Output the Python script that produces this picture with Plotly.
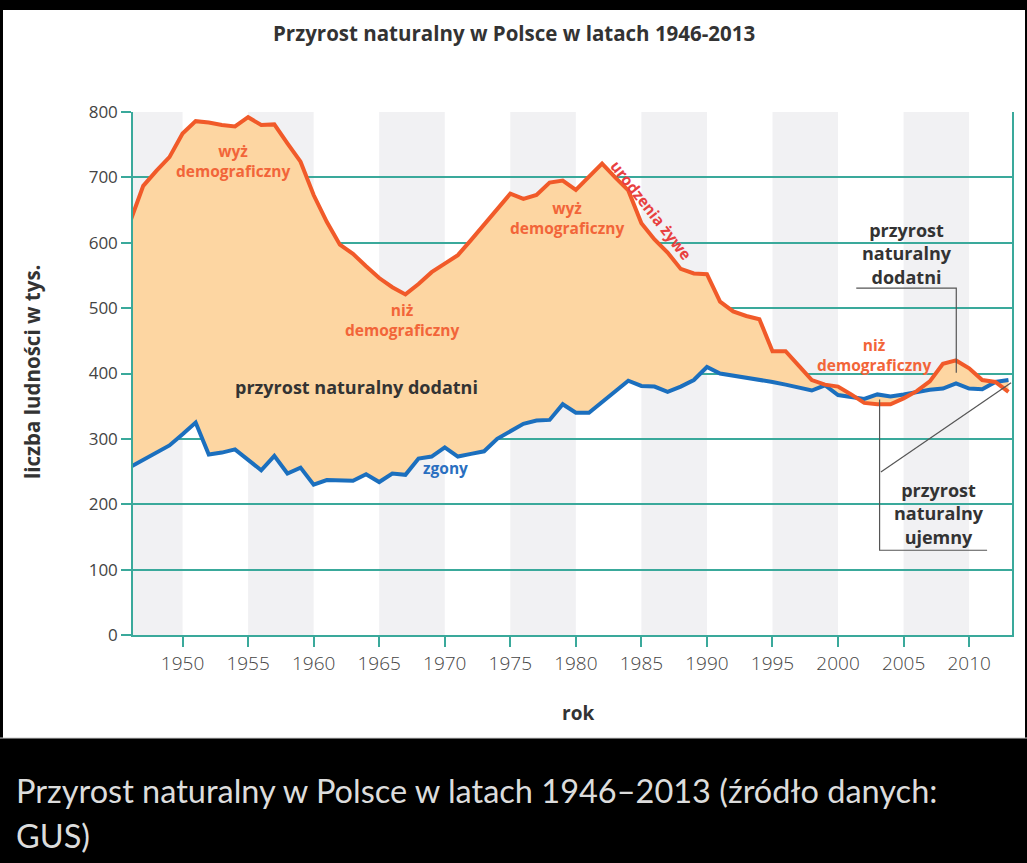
import plotly.graph_objects as go

# dane (tys.)
years = [1946, 1947, 1948, 1949, 1950, 1951, 1952, 1953, 1954, 1955,
         1956, 1957, 1958, 1959, 1960, 1961, 1962, 1963, 1964, 1965,
         1966, 1967, 1968, 1969, 1970, 1971, 1972, 1973, 1974, 1975,
         1976, 1977, 1978, 1979, 1980, 1981, 1982, 1983, 1984, 1985,
         1986, 1987, 1988, 1989, 1990, 1991, 1992, 1993, 1994, 1995,
         1996, 1997, 1998, 1999, 2000, 2001, 2002, 2003, 2004, 2005,
         2006, 2007, 2008, 2009, 2010, 2011, 2012, 2013]

births = [632, 687, 710, 731, 767, 786, 784, 780, 778, 792,
          780, 781, 752, 724, 673, 632, 597, 583, 564, 546,
          532, 521, 537, 555, 568, 581, 604, 628, 652, 675,
          667, 673, 692, 695, 681, 700, 721, 700, 680, 630,
          605, 585, 560, 553, 552, 510, 495, 488, 483, 434,
          434, 412, 390, 383, 380, 368, 355, 353, 353, 362,
          373, 388, 415, 420, 408, 390, 387, 372]

deaths = [257, 268, 279, 290, 307, 325, 276, 279, 284, 268,
          252, 274, 247, 256, 230, 237, 237, 236, 246, 234,
          247, 245, 270, 273, 287, 273, 277, 281, 300, 312,
          323, 328, 329, 353, 340, 340, 356, 373, 389, 381,
          380, 372, 380, 390, 410, 400, 397, 394, 390, 387,
          383, 379, 374, 382, 367, 364, 361, 368, 365, 368,
          372, 375, 377, 385, 377, 376, 387, 390]

tick_years = [1950, 1955, 1960, 1965, 1970, 1975, 1980, 1985, 1990, 1995, 2000, 2005, 2010]

TEAL = "#3aa99b"
ORANGE = "#f15a29"
BLUE = "#1b6fbe"
DARK = "#333333"
FONT = "Open Sans"

fig = go.Figure()

fig.add_trace(go.Scatter(x=years, y=deaths, mode="lines",
                         line=dict(color=BLUE, width=4), hoverinfo="skip"))
fig.add_trace(go.Scatter(x=years, y=births, mode="lines", fill="tonexty",
                         fillcolor="#fdd6a2",
                         line=dict(color=ORANGE, width=4), hoverinfo="skip"))

shapes = []
# szare pasy co 5 lat
for start in range(1945, 2010, 10):
    shapes.append(dict(type="rect", xref="x", yref="paper", x0=start, x1=start + 5,
                       y0=0, y1=1, fillcolor="#f1f1f3", line_width=0, layer="below"))

# czarne tło podpisu i obramowanie
shapes.append(dict(type="rect", xref="paper", yref="paper", x0=-0.2, x1=1.1,
                   y0=-0.197, y1=-0.5, fillcolor="black", line_width=0, layer="below"))
shapes.append(dict(type="line", xref="paper", yref="paper", x0=-0.2, x1=1.1,
                   y0=-0.197, y1=-0.197, line=dict(color="#cccccc", width=1)))
shapes.append(dict(type="rect", xref="paper", yref="paper", x0=-0.2, x1=1.1,
                   y0=1.195, y1=1.25, fillcolor="black", line_width=0, layer="below"))
shapes.append(dict(type="rect", xref="paper", yref="paper", x0=-0.2, x1=-0.1479,
                   y0=-0.5, y1=1.25, fillcolor="black", line_width=0, layer="below"))
shapes.append(dict(type="rect", xref="paper", yref="paper", x0=1.0148, x1=1.1,
                   y0=-0.5, y1=1.25, fillcolor="black", line_width=0, layer="below"))

# linie odnośników
GREY = "#555555"
shapes.append(dict(type="path", xref="x", yref="y",
                   path="M 2001.39 530.7 L 2009.02 530.7 L 2009.02 401",
                   line=dict(color=GREY, width=1.2)))
shapes.append(dict(type="path", xref="x", yref="y",
                   path="M 2003.17 360.3 L 2003.17 129.6 L 2011.37 129.6",
                   line=dict(color=GREY, width=1.2)))
shapes.append(dict(type="line", xref="x", yref="y", x0=2003.27, y0=249.5,
                   x1=2013.2, y1=385.7, line=dict(color=GREY, width=1.2)))

annotations = []


def note(text, x, y, color, size, angle=0):
    annotations.append(dict(text=text, x=x, y=y, xref="x", yref="y", showarrow=False,
                            textangle=angle, xanchor="center", yanchor="middle",
                            font=dict(family=FONT, size=size, color=color, weight="bold")))


note("wyż<br>demograficzny", 1953.85, 725, "#f26539", 15.5)
note("wyż<br>demograficzny", 1979.29, 638, "#f26539", 15.5)
note("niż<br>demograficzny", 1966.73, 482, "#f26539", 15.5)
note("niż<br>demograficzny", 2002.77, 428, "#f26539", 15.5)
note("urodzenia żywe", 1985.75, 650, "#e8403f", 15.5, angle=52)
note("zgony", 1970.05, 255, "#2a6fc0", 15.5)
note("przyrost naturalny dodatni", 1963.3, 380, DARK, 18)
note("przyrost<br>naturalny<br>dodatni", 2005.26, 584, DARK, 18)
note("przyrost<br>naturalny<br>ujemny", 2007.7, 186, DARK, 18)

# tytuły
annotations.append(dict(text="Przyrost naturalny w Polsce w latach 1946-2013",
                        xref="paper", yref="paper", x=0.4334, y=1.151, showarrow=False,
                        xanchor="center", yanchor="middle",
                        font=dict(family=FONT, size=20.5, color=DARK, weight="bold")))
annotations.append(dict(text="liczba ludności w tys.", xref="paper", yref="paper",
                        x=-0.1149, y=0.503, showarrow=False, textangle=-90,
                        xanchor="center", yanchor="middle",
                        font=dict(family=FONT, size=20.5, color=DARK, weight="bold")))
annotations.append(dict(text="rok", xref="paper", yref="paper", x=0.506, y=-0.149,
                        showarrow=False, xanchor="center", yanchor="middle",
                        font=dict(family=FONT, size=19, color=DARK, weight="bold")))
annotations.append(dict(text="Przyrost naturalny w Polsce w latach 1946–2013 (źródło danych:",
                        xref="paper", yref="paper", x=-0.1354, y=-0.2964, showarrow=False,
                        xanchor="left", yanchor="middle",
                        font=dict(family="Lato", size=32.5, color="#dcdcdc")))
annotations.append(dict(text="GUS)", xref="paper", yref="paper", x=-0.1354, y=-0.383,
                        showarrow=False, xanchor="left", yanchor="middle",
                        font=dict(family="Lato", size=32.5, color="#dcdcdc")))

fig.update_layout(
    width=1027, height=863,
    margin=dict(l=133, r=15, t=112, b=228),
    paper_bgcolor="white", plot_bgcolor="white",
    showlegend=False,
    shapes=shapes, annotations=annotations,
    font=dict(family=FONT, color="#444444", size=17),
)

fig.update_xaxes(range=[1946.22, 2013.27], tickvals=tick_years,
                 ticks="outside", ticklen=10, tickwidth=1.5, tickcolor=TEAL,
                 showline=True, linecolor=TEAL, linewidth=1.5,
                 showgrid=False, zeroline=False,
                 tickfont=dict(family=FONT, size=19, color="#444444", weight=300))
fig.update_yaxes(range=[0, 800], dtick=100,
                 ticks="outside", ticklen=10, tickwidth=1.5, tickcolor=TEAL,
                 showline=True, mirror=True, linecolor=TEAL, linewidth=1.5,
                 showgrid=True, gridcolor=TEAL, gridwidth=1.5, zeroline=False,
                 tickfont=dict(family=FONT, size=17, color="#444444"))

fig.write_html("out.html", config={"displayModeBar": False},
               post_script="document.body.style.margin='0';")
